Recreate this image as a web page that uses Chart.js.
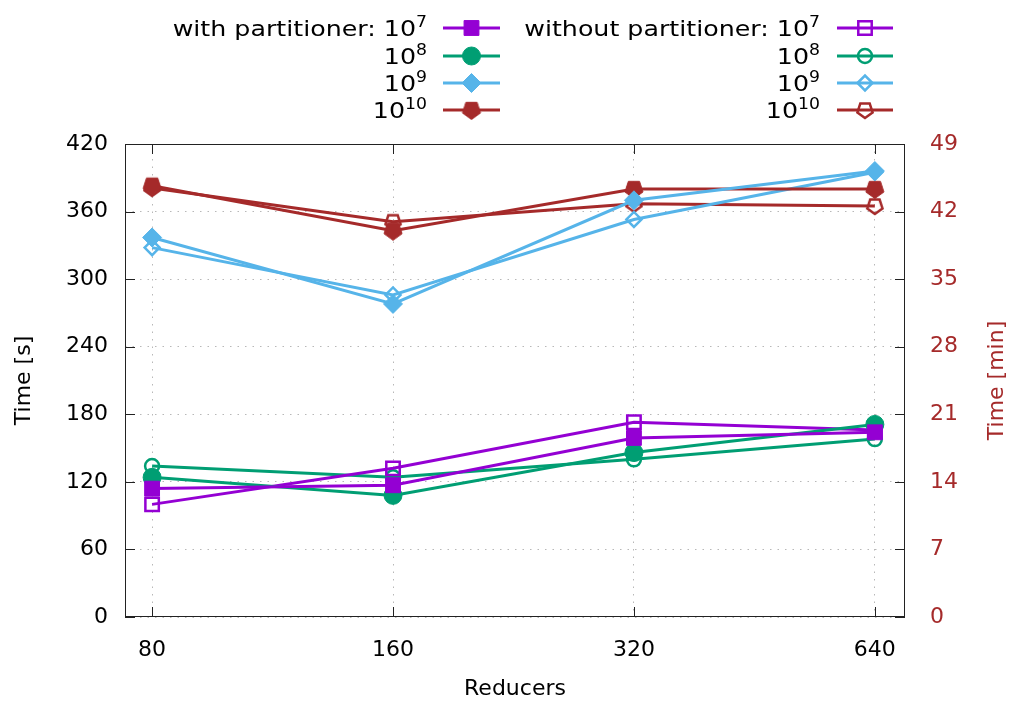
<!DOCTYPE html>
<html>
<head>
<meta charset="utf-8">
<script src="https://cdn.jsdelivr.net/npm/chart.js@4"></script>
<style>
  html, body { margin: 0; padding: 0; background: #fff; }
  #wrap { width: 1010px; height: 702px; }
</style>
</head>
<body>
<div id="wrap"><canvas id="timeChart" width="1010" height="702"></canvas></div>
<script>
// Reducers on x, run time in seconds on y
const reducers = [80, 160, 320, 640];
const exponents = ["7", "8", "9", "10"];
const secTicks = [0, 60, 120, 180, 240, 300, 360, 420];
const minTicks = [0, 7, 14, 21, 28, 35, 42, 49];

const withPart7 = [114, 117, 159, 164];
const withPart8 = [124, 108, 146, 171];
const withPart9 = [337, 278, 370, 396];
const withPart10 = [383, 343, 380, 380];

const withoutPart7 = [100, 132, 173, 166];
const withoutPart8 = [134, 124, 140, 158];
const withoutPart9 = [328, 286, 353, 395];
const withoutPart10 = [381, 351, 367, 365];

const colors = ["#9400d3", "#009e73", "#56b4e9", "#a52a2a"];
const FONT = "DejaVu Sans";

// pentagon marker (point down), filled or open
function pentagon(color, filled) {
  const c = document.createElement("canvas");
  c.width = 24; c.height = 24;
  const g = c.getContext("2d");
  const r = filled ? 9.5 : 8;
  g.beginPath();
  for (let i = 0; i < 5; i++) {
    const a = Math.PI / 2 + i * 2 * Math.PI / 5;
    const px = 12 + r * Math.cos(a), py = 12 + r * Math.sin(a);
    if (i === 0) g.moveTo(px, py); else g.lineTo(px, py);
  }
  g.closePath();
  g.lineWidth = filled ? 1 : 2.5;
  g.strokeStyle = color;
  if (filled) { g.fillStyle = color; g.fill(); }
  g.stroke();
  return c;
}

const filledStyles = ["rect", "circle", "rectRot", pentagon(colors[3], true)];
const openStyles = ["rect", "circle", "rectRot", pentagon(colors[3], false)];
const filledRadius = [10.5, 9, 9.5, 10];
const openRadius = [9.5, 7, 7.5, 10];

function series(values, i, filled) {
  return {
    label: (filled ? "with" : "without") + " partitioner: 10^" + exponents[i],
    data: reducers.map((r, k) => ({ x: r, y: values[k] })),
    borderColor: colors[i],
    backgroundColor: colors[i],
    borderWidth: 3,
    pointStyle: filled ? filledStyles[i] : openStyles[i],
    pointRadius: filled ? filledRadius[i] : openRadius[i],
    pointBackgroundColor: filled ? colors[i] : "rgba(0,0,0,0)",
    pointBorderColor: colors[i],
    pointBorderWidth: filled ? 1 : 2.5,
    tension: 0,
    yAxisID: "y"
  };
}

const datasets = [
  series(withPart7, 0, true), series(withPart8, 1, true),
  series(withPart9, 2, true), series(withPart10, 3, true),
  series(withoutPart7, 0, false), series(withoutPart8, 1, false),
  series(withoutPart9, 2, false), series(withoutPart10, 3, false)
];

// gnuplot style frame, inward ticks, key and right title
const framePlugin = {
  id: "frame",
  afterDraw(chart) {
    const ctx = chart.ctx;
    const a = chart.chartArea;
    const xs = chart.scales.x, ys = chart.scales.y;
    ctx.save();
    ctx.strokeStyle = "#222";
    ctx.lineWidth = 1;
    ctx.strokeRect(a.left + 0.5, a.top + 0.5, a.right - a.left - 1, a.bottom - a.top - 1);
    ctx.beginPath();
    secTicks.forEach(v => {
      const py = Math.round(ys.getPixelForValue(v)) + 0.5;
      ctx.moveTo(a.left, py); ctx.lineTo(a.left + 10, py);
      ctx.moveTo(a.right, py); ctx.lineTo(a.right - 10, py);
    });
    reducers.forEach(v => {
      const px = Math.round(xs.getPixelForValue(v)) + 0.5;
      ctx.moveTo(px, a.bottom); ctx.lineTo(px, a.bottom - 10);
      ctx.moveTo(px, a.top); ctx.lineTo(px, a.top + 10);
    });
    ctx.stroke();

    // right axis title, reading bottom to top
    ctx.fillStyle = colors[3];
    ctx.font = "22px '" + FONT + "'";
    ctx.textAlign = "center";
    ctx.textBaseline = "middle";
    ctx.translate(997, (a.top + a.bottom) / 2);
    ctx.rotate(-Math.PI / 2);
    ctx.fillText("Time [min]", 0, 0);
    ctx.restore();

    // key
    const rowsY = [28, 56, 83, 110];
    const stretch = 1.15;
    const cols = [
      { textRight: 427, x0: 443, x1: 500, prefix: "with partitioner: ", filled: true },
      { textRight: 820, x0: 837, x1: 893, prefix: "without partitioner: ", filled: false }
    ];
    ctx.save();
    cols.forEach(col => {
      exponents.forEach((e, i) => {
        const y = rowsY[i];
        ctx.save();
        ctx.translate(col.textRight, 0);
        ctx.scale(stretch, 1);
        ctx.fillStyle = "#000";
        ctx.textBaseline = "alphabetic";
        ctx.textAlign = "right";
        ctx.font = "15px '" + FONT + "'";
        const ew = ctx.measureText(e).width;
        ctx.fillText(e, 0, y - 1);
        ctx.font = "22px '" + FONT + "'";
        const base = (i === 0 ? col.prefix : "") + "10";
        ctx.fillText(base, -ew, y + 8);
        ctx.restore();

        ctx.strokeStyle = colors[i];
        ctx.lineWidth = 3;
        ctx.beginPath();
        ctx.moveTo(col.x0, y); ctx.lineTo(col.x1, y);
        ctx.stroke();
        const ds = datasets[i + (col.filled ? 0 : 4)];
        ctx.fillStyle = ds.pointBackgroundColor;
        ctx.strokeStyle = colors[i];
        ctx.lineWidth = ds.pointBorderWidth;
        Chart.helpers.drawPoint(ctx, {
          pointStyle: ds.pointStyle,
          radius: ds.pointRadius,
          rotation: 0,
          borderWidth: ds.pointBorderWidth
        }, (col.x0 + col.x1) / 2, y);
      });
    });
    ctx.restore();
  }
};

new Chart(document.getElementById("timeChart").getContext("2d"), {
  type: "line",
  data: { datasets: datasets },
  options: {
    responsive: false,
    animation: false,
    layout: { padding: { top: 144, left: 0, right: 0, bottom: 0 } },
    plugins: { legend: { display: false }, tooltip: { enabled: false } },
    scales: {
      x: {
        type: "logarithmic",
        position: "bottom",
        min: 74,
        max: 698,
        afterBuildTicks: s => { s.ticks = reducers.map(v => ({ value: v })); },
        afterFit: s => { s.height = 85; },
        ticks: {
          callback: v => String(v),
          color: "#000",
          font: { family: FONT, size: 22 },
          padding: 20,
          maxRotation: 0,
          autoSkip: false
        },
        grid: { color: "#b8b8b8", lineWidth: 1, drawTicks: false },
        border: { display: false, dash: [1.5, 6] },
        title: {
          display: true,
          text: "Reducers",
          color: "#000",
          font: { family: FONT, size: 22 },
          padding: 0
        }
      },
      y: {
        position: "left",
        min: 0,
        max: 420,
        afterBuildTicks: s => { s.ticks = secTicks.map(v => ({ value: v })); },
        afterFit: s => { s.width = 125; },
        ticks: {
          color: "#000",
          font: { family: FONT, size: 22 },
          padding: 17
        },
        grid: { color: "#b8b8b8", lineWidth: 1, drawTicks: false },
        border: { display: false, dash: [1.5, 6] },
        title: {
          display: true,
          text: "Time [s]",
          color: "#000",
          font: { family: FONT, size: 22 },
          padding: { top: 11, bottom: 0 }
        }
      },
      y2: {
        position: "right",
        min: 0,
        max: 49,
        afterBuildTicks: s => { s.ticks = minTicks.map(v => ({ value: v })); },
        afterFit: s => { s.width = 105; },
        ticks: {
          color: colors[3],
          font: { family: FONT, size: 22 },
          padding: 25
        },
        grid: { drawOnChartArea: false, drawTicks: false },
        border: { display: false }
      }
    }
  },
  plugins: [framePlugin]
});
</script>
</body>
</html>
